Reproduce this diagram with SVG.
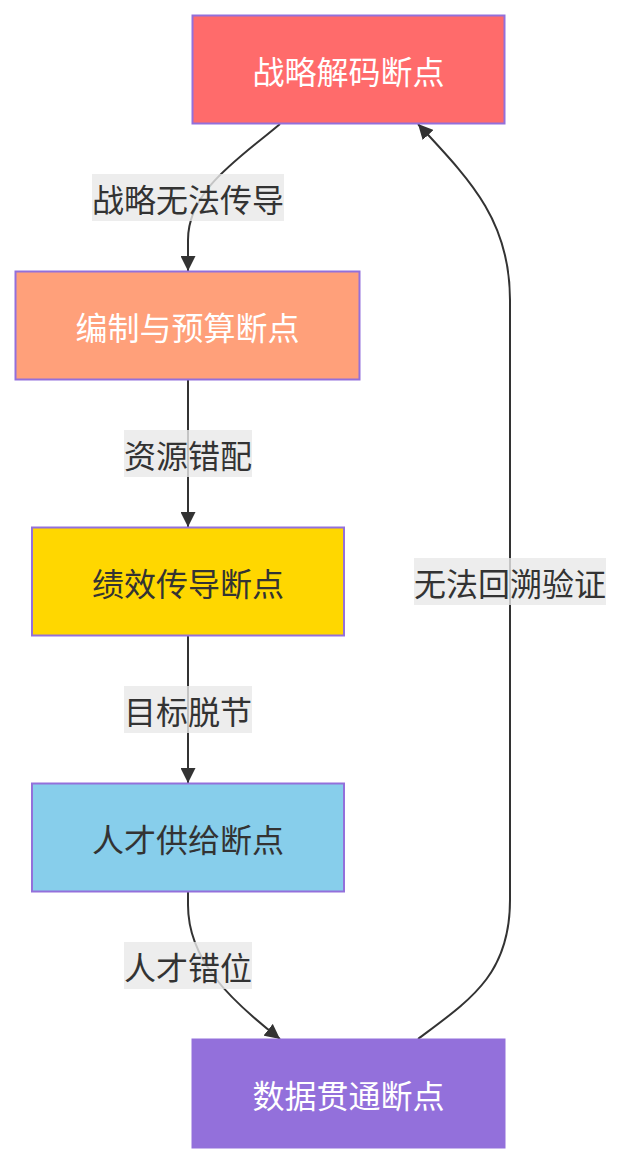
<svg xmlns="http://www.w3.org/2000/svg" width="622" height="1164" viewBox="0 0 622 1164">
<style>
.node rect{stroke:#9370db;stroke-width:2}
.nt{font-family:"Noto Sans CJK SC","Noto Sans",sans-serif;font-size:32px;text-anchor:middle;dominant-baseline:central}
.w{fill:#ffffff}
.d{fill:#333333}
.edge{fill:none;stroke:#333333;stroke-width:2}
.lbl rect{fill:#e8e8e8;opacity:0.8}
.lbl text{font-family:"Noto Sans CJK SC","Noto Sans",sans-serif;font-size:32px;text-anchor:middle;dominant-baseline:central;fill:#333333}
</style>
<defs>
<marker id="arr" viewBox="0 0 10 10" refX="10" refY="5" markerWidth="15" markerHeight="15" markerUnits="userSpaceOnUse" orient="auto">
<path d="M0,0 L10,5 L0,10 z" fill="#333333"/>
</marker>
</defs>
<rect width="622" height="1164" fill="#ffffff"/>
<g id="connectors">
<path class="edge" d="M280,124 C240,158 188,190 188,240 L188,271" marker-end="url(#arr)"/>
<path class="edge" d="M188,380 L188,527" marker-end="url(#arr)"/>
<path class="edge" d="M188,636 L188,783" marker-end="url(#arr)"/>
<path class="edge" d="M188,892 L188,905 C188,960 230,1000 280,1039" marker-end="url(#arr)"/>
<path class="edge" d="M418,1039 C470,1000 510,975 510,900 L510,300 C510,220 470,180 418,124" marker-end="url(#arr)"/>
</g>
<g id="edge-labels">
<g class="lbl"><rect x="92" y="174" width="192" height="47"/><text x="188" y="197.5">战略无法传导</text></g>
<g class="lbl"><rect x="124" y="430" width="128" height="47"/><text x="188" y="453.5">资源错配</text></g>
<g class="lbl"><rect x="124" y="686" width="128" height="47"/><text x="188" y="709.5">目标脱节</text></g>
<g class="lbl"><rect x="124" y="942" width="128" height="47"/><text x="188" y="965.5">人才错位</text></g>
<g class="lbl"><rect x="414" y="558" width="192" height="47"/><text x="510" y="581.5">无法回溯验证</text></g>
</g>
<g id="n1" class="node"><rect x="192.5" y="15.5" width="312" height="108" fill="#ff6b6b"/><text class="nt w" x="348.5" y="69.5">战略解码断点</text></g>
<g id="n2" class="node"><rect x="15.5" y="271.5" width="344" height="108" fill="#ffa07a"/><text class="nt w" x="187.5" y="325.5">编制与预算断点</text></g>
<g id="n3" class="node"><rect x="32" y="527.5" width="312" height="108" fill="#ffd700"/><text class="nt d" x="188" y="581.5">绩效传导断点</text></g>
<g id="n4" class="node"><rect x="32" y="783.5" width="312" height="108" fill="#87ceeb"/><text class="nt d" x="188" y="837.5">人才供给断点</text></g>
<g id="n5" class="node"><rect x="192.5" y="1039.5" width="312" height="108" fill="#9370db"/><text class="nt w" x="348.5" y="1093.5">数据贯通断点</text></g>
</svg>
